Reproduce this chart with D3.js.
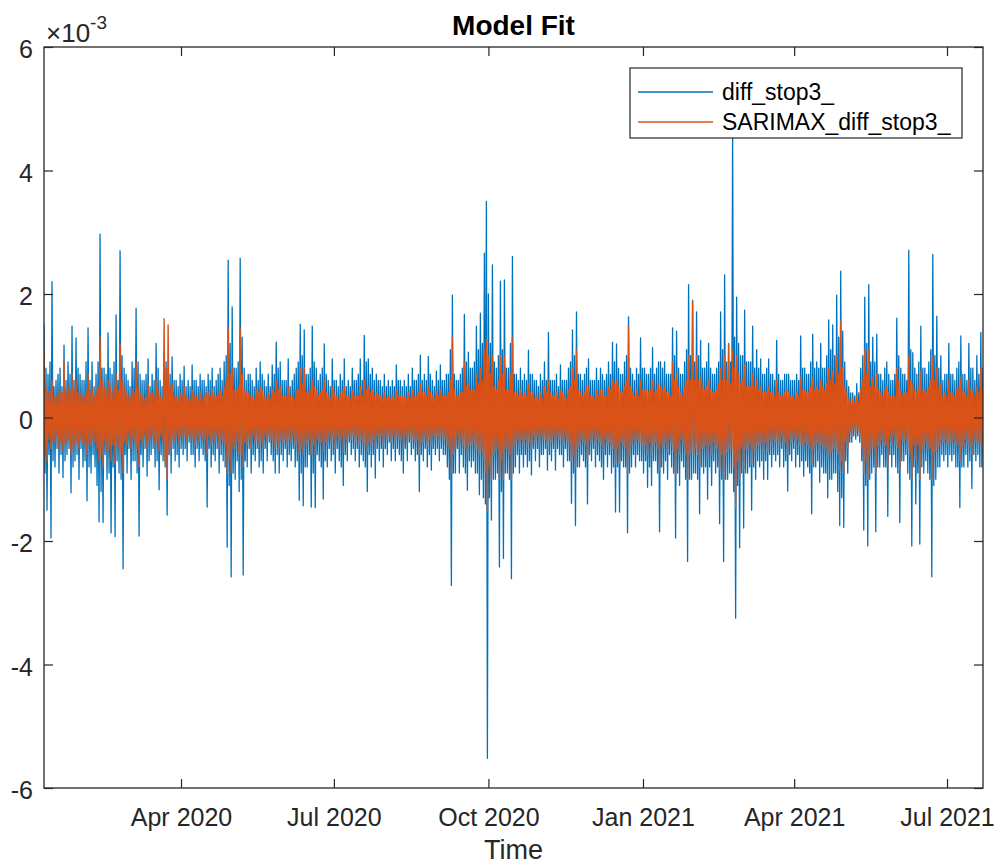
<!DOCTYPE html>
<html>
<head>
<meta charset="utf-8">
<script src="https://cdn.jsdelivr.net/npm/d3@7"></script>
<style>
  body { margin: 0; background: #fff; }
  svg text { font-family: "Liberation Sans", Arial, Helvetica, sans-serif; }
</style>
</head>
<body>
<div id="chart"></div>
<script>
// values are in units of 1e-3, one sample every 14.3 h starting 2020-01-10
const sampleStart = Date.UTC(2020, 0, 10, 10, 30);
const sampleHours = 14.3;
const xStart = new Date(Date.UTC(2020, 0, 10, 10, 30));
const xEnd = new Date(Date.UTC(2021, 6, 22, 10, 0));
const yTicks = [-6, -4, -2, 0, 2, 4, 6];
const seriesNames = ["diff_stop3_", "SARIMAX_diff_stop3_"];
const colors = ["#0072BD", "#D95319"];

// observed series (diff_stop3_)
const obsPart1 = [1.5,-0.9,0.8,-1.5,0.7,-0.6,0.9,-1.95,2.2,-0.7,0.5,-0.8,0.6,-0.5,0.7,-0.9,0.8,-0.6,0.5,-0.97,1.17,-0.7,0.6,-0.6,0.9,-0.5,0.7,-1.22,1.48,-0.8,0.6,-0.7,1.29,-0.6,0.8,-1.0,0.7,-0.5,0.6,-0.8,
  0.6,-0.7,0.9,-1.35,1.45,-0.8,0.6,-0.9,0.9,-0.6,0.5,-0.8,0.7,-1.1,0.9,-1.69,2.97,-1.2,0.8,-1.7,0.8,-0.6,0.7,-1.0,1.37,-0.9,0.8,-1.87,0.7,-0.8,0.9,-1.93,1.66,-0.7,0.6,-0.9,2.7,-1.0,1.0,-2.45,
  0.8,-0.6,0.7,-0.9,0.6,-0.5,0.5,-1.0,0.9,-0.7,0.8,-0.7,1.77,-0.9,0.9,-1.92,0.7,-0.6,0.6,-0.8,0.6,-0.5,0.7,-0.95,0.95,-0.7,0.5,-0.6,0.7,-0.5,0.6,-0.8,1.2,-0.7,0.8,-1.17,0.6,-0.6,0.5,-0.7,
  1.0,-0.8,0.9,-1.58,0.8,-0.6,0.7,-0.9,0.98,-0.5,0.6,-0.7,0.6,-0.6,0.5,-0.8,0.7,-0.5,0.6,-0.6,0.83,-0.5,0.5,-0.7,0.6,-0.4,0.5,-0.6,0.85,-0.6,0.6,-0.8,0.6,-0.5,0.5,-0.7,0.7,-0.5,0.6,-0.6];
const obsPart2 = [0.6,-0.7,0.5,-1.45,0.7,-0.5,0.6,-0.8,0.8,-0.6,0.5,-0.7,0.6,-0.5,0.7,-0.9,0.8,-0.6,0.6,-0.7,0.9,-0.8,1.0,-2.1,2.55,-1.1,1.2,-2.58,1.79,-0.9,0.8,-1.0,0.8,-0.7,0.9,-1.2,2.58,-1.0,1.3,-2.55,
  0.8,-0.7,0.6,-0.8,0.7,-0.5,0.7,-0.9,0.6,-0.6,0.5,-0.7,0.8,-0.5,0.6,-0.8,0.9,-0.7,0.7,-0.9,0.6,-0.5,0.5,-0.7,0.7,-0.4,0.5,-0.6,0.85,-0.7,0.7,-0.9,1.22,-0.6,0.8,-0.9,0.9,-0.6,0.6,-0.7,
  0.6,-0.5,0.6,-0.8,0.95,-0.6,0.5,-0.7,0.6,-0.5,0.7,-0.8,0.8,-0.7,0.9,-1.34,1.51,-0.9,1.0,-1.43,1.42,-0.8,0.7,-0.8,0.7,-0.6,0.8,-1.45,1.48,-0.9,0.9,-1.46,0.8,-0.6,0.6,-0.7,0.7,-0.8,0.8,-1.32,
  1.19,-0.7,0.7,-0.8,0.6,-0.5,0.5,-0.7,0.95,-0.6,0.6,-0.9,0.6,-0.5,0.5,-0.7,0.7,-0.8,0.6,-1.1,0.95,-0.6,0.5,-0.7,0.6,-0.4,0.5,-0.6,0.8,-0.5,0.6,-0.7,0.6,-0.5,0.7,-0.8,0.95,-0.6,0.6,-0.7];
const obsPart3 = [1.33,-0.8,0.9,-1.2,0.95,-0.6,0.7,-0.8,0.8,-0.6,0.6,-0.98,0.7,-0.5,0.6,-0.7,0.6,-0.5,0.5,-0.8,0.7,-0.5,0.5,-0.6,0.6,-0.4,0.5,-0.7,0.6,-0.5,0.5,-0.7,0.85,-0.5,0.6,-0.6,0.6,-0.7,0.5,-0.9,
  0.6,-0.5,0.5,-0.7,0.7,-0.4,0.5,-0.6,0.8,-0.5,0.6,-0.7,0.6,-0.6,0.7,-1.2,1.01,-0.6,0.6,-0.7,0.7,-0.5,0.6,-0.8,0.99,-0.6,0.7,-0.85,0.6,-0.5,0.5,-0.6,0.75,-0.5,0.6,-0.7,0.85,-0.5,0.6,-0.6,
  0.6,-0.6,0.7,-0.8,0.7,-1.0,1.1,-2.72,1.98,-0.9,0.7,-0.9,0.6,-0.5,0.6,-0.9,0.7,-0.6,0.8,-0.8,1.67,-0.9,0.9,-1.18,1.06,-0.7,0.8,-0.8,0.8,-0.7,0.9,-0.9,1.48,-0.9,1.1,-1.25,1.69,-1.0,1.2,-1.3,
  2.66,-1.4,3.5,-5.52,2.0,-1.3,1.2,-1.66,2.47,-1.0,0.9,-1.0,0.8,-0.9,1.0,-2.42,2.21,-1.2,1.1,-2.28,2.23,-0.9,0.8,-0.9,0.8,-1.0,1.2,-2.61,2.61,-0.9,0.7,-0.8,0.7,-0.6,0.6,-0.9,0.8,-0.6,0.6,-0.8];
const obsPart4 = [0.7,-0.6,0.6,-0.8,1.09,-0.7,0.7,-0.93,0.7,-0.5,0.6,-0.7,0.6,-0.5,0.5,-0.8,0.7,-0.6,0.6,-0.6,0.9,-0.5,0.6,-0.85,1.38,-0.6,0.6,-0.7,0.6,-0.5,0.6,-0.85,0.7,-0.5,0.5,-0.6,0.85,-0.6,0.6,-0.8,
  0.6,-0.5,0.6,-0.7,0.8,-0.7,0.9,-1.39,1.42,-0.9,1.0,-1.75,1.71,-0.8,0.7,-0.8,0.7,-0.6,0.6,-0.7,0.7,-0.8,0.8,-1.4,0.95,-0.6,0.6,-0.7,0.6,-0.5,0.6,-0.8,0.8,-0.6,0.6,-0.7,0.8,-0.8,0.7,-1.0,
  0.6,-0.6,0.7,-0.8,0.9,-0.6,0.7,-0.9,1.22,-0.8,0.9,-1.53,1.19,-0.8,0.8,-1.53,0.7,-0.7,0.7,-0.8,0.9,-0.8,1.0,-1.87,1.63,-0.9,0.8,-0.8,0.7,-0.6,0.6,-0.8,0.8,-0.6,0.7,-0.7,1.29,-0.7,0.8,-0.9,
  0.8,-0.7,0.7,-1.13,0.7,-0.8,0.8,-1.1,1.13,-0.7,0.7,-0.7,0.8,-0.9,0.9,-1.85,0.9,-0.8,0.8,-0.9,0.9,-0.7,0.7,-1.0,0.7,-0.6,0.7,-0.8,1.45,-0.9,1.0,-1.95,1.4,-0.9,0.8,-1.1,0.7,-0.7,0.7,-0.8];
const obsPart5 = [0.9,-1.0,1.1,-2.33,2.15,-1.0,1.0,-1.0,1.9,-0.9,0.9,-0.9,1.71,-1.0,1.0,-1.56,1.25,-0.8,0.8,-0.9,0.8,-0.8,0.9,-1.32,1.2,-0.8,0.8,-1.1,0.7,-0.7,0.7,-0.9,0.8,-0.8,0.9,-1.72,1.71,-1.0,1.1,-2.33,
  2.31,-1.0,0.9,-1.0,1.2,-0.9,0.9,-0.9,4.55,-1.2,1.3,-3.25,1.95,-1.1,1.2,-2.11,1.0,-0.9,1.0,-1.79,1.74,-0.9,0.9,-0.9,0.9,-0.8,0.9,-1.5,1.48,-0.8,0.8,-1.0,1.1,-0.7,0.8,-0.8,0.95,-0.7,0.7,-1.0,
  0.7,-0.7,0.8,-1.0,0.95,-0.6,0.7,-0.8,0.7,-0.6,0.6,-0.7,1.25,-0.6,0.7,-0.8,0.6,-0.5,0.6,-0.8,0.7,-0.7,0.7,-1.19,0.7,-0.6,0.6,-0.7,0.6,-0.5,0.6,-0.8,0.7,-0.6,0.6,-0.8,1.32,-0.7,0.8,-0.95,
  0.8,-0.7,0.7,-0.8,0.7,-0.9,0.9,-1.56,1.35,-0.8,0.8,-0.8,0.9,-0.7,0.8,-1.05,1.2,-0.8,0.8,-0.9,0.8,-0.9,1.0,-1.3,1.58,-1.0,1.1,-1.0,1.5,-0.9,1.0,-0.9,1.98,-1.2,1.3,-1.75,2.37,-1.3,1.4,-1.78];
const obsPart6 = [0.9,-0.7,0.6,-0.9,0.5,-0.4,0.4,-0.4,0.4,-0.3,0.35,-0.35,0.55,-0.3,0.4,-0.4,0.8,-0.7,1.0,-1.82,1.95,-1.1,1.2,-2.08,2.15,-1.0,0.9,-0.9,1.3,-0.8,0.9,-1.85,1.35,-0.8,0.7,-0.8,0.7,-0.6,0.6,-0.8,
  0.8,-0.8,0.9,-1.6,0.7,-0.6,0.6,-0.8,0.6,-0.6,0.7,-0.8,1.61,-0.9,1.0,-1.7,0.8,-0.7,0.7,-0.7,0.7,-0.6,0.6,-0.9,2.71,-1.0,1.1,-2.08,1.05,-0.8,0.8,-1.4,0.7,-0.9,0.9,-2.05,1.48,-0.8,0.8,-0.9,
  0.8,-0.7,0.7,-0.9,0.9,-1.0,1.1,-2.58,2.64,-1.1,1.0,-1.0,1.64,-0.8,0.8,-0.8,1.0,-0.6,0.6,-0.7,0.7,-0.6,0.7,-0.8,1.2,-0.6,0.7,-0.7,0.7,-0.6,0.6,-0.8,0.8,-0.8,0.9,-1.46,1.32,-0.8,0.7,-0.8,
  0.7,-0.6,0.6,-0.8,1.2,-0.7,0.8,-1.15,0.8,-0.6,0.6,-0.7,1.0,-0.6,0.7,-0.8,1.38,-0.8,0.8,-1.06,0.7];

// fitted series (SARIMAX_diff_stop3_)
const fitPart1 = [1.1,-0.5,0.5,-0.7,0.4,-0.35,0.45,-0.5,0.6,-0.4,0.35,-0.4,0.35,-0.3,0.4,-0.5,0.45,-0.4,0.4,-0.55,0.9,-0.45,0.4,-0.4,0.5,-0.35,0.45,-0.6,0.7,-0.5,0.45,-0.45,0.6,-0.4,0.4,-0.5,0.4,-0.35,0.35,-0.45,
  0.35,-0.4,0.45,-0.6,0.7,-0.45,0.4,-0.45,0.5,-0.35,0.35,-0.4,0.45,-0.5,0.5,-0.7,1.3,-0.6,0.6,-0.8,0.5,-0.4,0.45,-0.55,0.6,-0.5,0.5,-0.7,0.4,-0.45,0.5,-0.75,0.7,-0.45,0.45,-0.5,1.2,-0.6,0.6,-0.9,
  0.5,-0.4,0.4,-0.45,0.35,-0.3,0.35,-0.5,0.45,-0.35,0.4,-0.4,0.9,-0.5,0.5,-0.8,0.4,-0.35,0.35,-0.45,0.3,-0.3,0.35,-0.5,0.55,-0.4,0.4,-0.35,0.4,-0.3,0.35,-0.45,0.6,-0.4,0.45,-0.55,0.35,-0.3,0.3,-0.4,
  1.6,-0.7,0.8,-1.0,1.5,-0.6,0.5,-0.5,0.55,-0.35,0.35,-0.4,0.35,-0.3,0.3,-0.45,0.4,-0.3,0.35,-0.35,0.5,-0.3,0.35,-0.4,0.3,-0.3,0.3,-0.35,0.45,-0.35,0.35,-0.45,0.35,-0.3,0.3,-0.4,0.4,-0.3,0.3,-0.35];
const fitPart2 = [0.35,-0.35,0.4,-0.6,0.4,-0.3,0.35,-0.45,0.45,-0.35,0.35,-0.4,0.35,-0.3,0.4,-0.5,0.45,-0.35,0.35,-0.4,0.5,-0.45,0.6,-0.9,1.45,-0.7,0.7,-0.9,0.8,-0.5,0.45,-0.5,0.45,-0.4,0.5,-0.6,1.45,-0.6,0.7,-0.8,
  0.45,-0.4,0.4,-0.45,0.4,-0.35,0.35,-0.5,0.35,-0.3,0.3,-0.4,0.45,-0.35,0.4,-0.45,0.5,-0.4,0.45,-0.5,0.35,-0.3,0.3,-0.4,0.4,-0.3,0.3,-0.35,0.45,-0.4,0.4,-0.5,0.6,-0.4,0.45,-0.5,0.5,-0.35,0.35,-0.4,
  0.35,-0.35,0.35,-0.45,0.5,-0.35,0.35,-0.4,0.35,-0.3,0.3,-0.45,0.45,-0.4,0.45,-0.6,0.8,-0.5,0.55,-0.6,0.8,-0.45,0.4,-0.45,0.4,-0.35,0.45,-0.6,0.6,-0.45,0.5,-0.6,0.45,-0.35,0.35,-0.4,0.4,-0.4,0.45,-0.55,
  0.6,-0.4,0.4,-0.45,0.35,-0.3,0.3,-0.4,0.5,-0.35,0.4,-0.5,0.35,-0.3,0.3,-0.4,0.4,-0.35,0.4,-0.55,0.5,-0.35,0.35,-0.4,0.35,-0.3,0.3,-0.35,0.45,-0.3,0.35,-0.4,0.35,-0.3,0.35,-0.45,0.5,-0.35,0.35,-0.4];
const fitPart3 = [0.6,-0.45,0.45,-0.55,0.5,-0.4,0.4,-0.45,0.45,-0.35,0.35,-0.5,0.4,-0.3,0.35,-0.4,0.35,-0.3,0.3,-0.45,0.4,-0.3,0.3,-0.35,0.35,-0.3,0.3,-0.4,0.35,-0.3,0.3,-0.4,0.45,-0.3,0.35,-0.35,0.35,-0.35,0.35,-0.5,
  0.35,-0.3,0.3,-0.4,0.4,-0.3,0.3,-0.35,0.45,-0.35,0.35,-0.4,0.35,-0.35,0.4,-0.6,0.55,-0.4,0.4,-0.4,0.4,-0.3,0.35,-0.45,0.5,-0.35,0.4,-0.45,0.35,-0.3,0.3,-0.35,0.4,-0.3,0.35,-0.4,0.45,-0.3,0.35,-0.35,
  0.35,-0.35,0.35,-0.45,0.4,-0.5,0.6,-0.9,1.29,-0.6,0.45,-0.5,0.35,-0.3,0.35,-0.5,0.4,-0.35,0.4,-0.45,0.9,-0.5,0.5,-0.6,0.55,-0.45,0.45,-0.45,0.45,-0.4,0.45,-0.5,0.7,-0.5,0.55,-0.6,0.8,-0.55,0.6,-0.65,
  1.1,-0.9,1.26,-1.53,1.0,-0.8,0.7,-1.0,1.0,-0.6,0.5,-0.55,0.45,-0.5,0.6,-1.0,1.0,-0.7,0.7,-1.0,1.0,-0.5,0.45,-0.5,0.45,-0.6,0.7,-1.0,1.29,-0.5,0.4,-0.45,0.4,-0.35,0.35,-0.5,0.45,-0.35,0.35,-0.45];
const fitPart4 = [0.4,-0.35,0.35,-0.45,0.55,-0.4,0.4,-0.5,0.4,-0.3,0.3,-0.4,0.35,-0.3,0.3,-0.45,0.4,-0.3,0.3,-0.35,0.5,-0.35,0.4,-0.45,0.6,-0.4,0.4,-0.4,0.35,-0.3,0.35,-0.45,0.4,-0.3,0.3,-0.35,0.45,-0.35,0.4,-0.45,
  0.35,-0.3,0.3,-0.4,0.45,-0.45,0.5,-0.7,0.8,-0.6,0.6,-0.8,1.1,-0.5,0.45,-0.45,0.4,-0.35,0.35,-0.4,0.4,-0.45,0.5,-0.7,0.5,-0.35,0.35,-0.4,0.35,-0.3,0.3,-0.45,0.45,-0.35,0.35,-0.4,0.45,-0.45,0.45,-0.55,
  0.35,-0.35,0.35,-0.45,0.5,-0.4,0.45,-0.5,0.6,-0.5,0.55,-0.75,0.6,-0.5,0.5,-0.75,0.4,-0.4,0.4,-0.45,0.5,-0.5,0.6,-0.9,1.47,-0.6,0.5,-0.45,0.4,-0.35,0.35,-0.45,0.45,-0.35,0.35,-0.4,0.6,-0.45,0.45,-0.5,
  0.45,-0.45,0.45,-0.6,0.4,-0.4,0.45,-0.6,0.6,-0.45,0.4,-0.4,0.45,-0.5,0.55,-0.85,0.5,-0.45,0.45,-0.5,0.5,-0.4,0.4,-0.55,0.4,-0.35,0.35,-0.45,0.9,-0.55,0.6,-0.95,0.7,-0.5,0.5,-0.6,0.4,-0.35,0.35,-0.45];
const fitPart5 = [0.5,-0.6,0.6,-1.0,1.0,-0.6,0.6,-0.55,1.88,-0.6,0.6,-0.5,1.0,-0.6,0.6,-0.8,0.65,-0.5,0.5,-0.5,0.45,-0.45,0.5,-0.65,0.6,-0.45,0.45,-0.6,0.4,-0.4,0.4,-0.5,0.45,-0.5,0.55,-0.85,0.8,-0.6,0.6,-1.0,
  1.0,-0.6,0.6,-0.55,1.19,-0.5,0.55,-0.5,1.1,-0.8,0.8,-1.47,1.0,-0.7,0.7,-1.0,0.55,-0.5,0.6,-0.85,0.85,-0.5,0.5,-0.5,0.5,-0.45,0.5,-0.75,0.7,-0.5,0.5,-0.55,0.6,-0.45,0.45,-0.45,0.5,-0.4,0.4,-0.55,
  0.4,-0.4,0.4,-0.55,0.5,-0.35,0.4,-0.45,0.4,-0.35,0.35,-0.4,0.6,-0.4,0.4,-0.45,0.35,-0.3,0.35,-0.45,0.4,-0.4,0.45,-0.6,0.4,-0.35,0.35,-0.4,0.35,-0.3,0.3,-0.45,0.4,-0.35,0.35,-0.45,0.65,-0.45,0.45,-0.5,
  0.45,-0.4,0.4,-0.45,0.4,-0.5,0.5,-0.75,0.65,-0.5,0.45,-0.45,0.5,-0.4,0.45,-0.55,0.6,-0.45,0.5,-0.5,0.45,-0.5,0.55,-0.65,0.8,-0.6,0.6,-0.55,0.75,-0.5,0.55,-0.5,1.0,-0.6,0.7,-0.85,1.55,-0.7,0.8,-0.9];
const fitPart6 = [0.5,-0.4,0.4,-0.5,0.3,-0.25,0.25,-0.3,0.3,-0.2,0.25,-0.25,0.35,-0.2,0.25,-0.3,0.45,-0.5,0.6,-0.9,1.1,-0.7,0.7,-1.0,1.1,-0.6,0.5,-0.5,0.65,-0.5,0.5,-0.9,0.7,-0.45,0.45,-0.45,0.4,-0.35,0.35,-0.45,
  0.45,-0.45,0.5,-0.8,0.4,-0.35,0.35,-0.45,0.35,-0.3,0.35,-0.45,0.8,-0.5,0.6,-0.85,0.45,-0.35,0.35,-0.4,0.4,-0.35,0.4,-0.5,1.0,-0.6,0.6,-1.0,0.55,-0.45,0.45,-0.7,0.4,-0.45,0.5,-1.0,0.75,-0.5,0.45,-0.5,
  0.45,-0.4,0.4,-0.5,0.5,-0.5,0.6,-1.0,1.0,-0.6,0.6,-0.55,0.8,-0.5,0.5,-0.45,0.55,-0.35,0.35,-0.4,0.4,-0.35,0.35,-0.45,0.6,-0.4,0.4,-0.4,0.4,-0.35,0.35,-0.45,0.45,-0.45,0.5,-0.7,0.65,-0.5,0.45,-0.45,
  0.4,-0.35,0.35,-0.45,0.6,-0.45,0.45,-0.6,0.45,-0.35,0.35,-0.4,0.5,-0.4,0.4,-0.45,0.8,-0.5,0.5,-0.55,0.4];

const observed = [...obsPart1, ...obsPart2, ...obsPart3, ...obsPart4, ...obsPart5, ...obsPart6];
const fitted = [...fitPart1, ...fitPart2, ...fitPart3, ...fitPart4, ...fitPart5, ...fitPart6];

const W = 997, H = 866;
const plotLeft = 44, plotRight = 983, plotTop = 47, plotBottom = 788;

const svg = d3.select("#chart").append("svg")
  .attr("width", W)
  .attr("height", H);

const x = d3.scaleUtc().domain([xStart, xEnd]).range([plotLeft, plotRight]);
const y = d3.scaleLinear().domain([-6, 6]).range([plotBottom, plotTop]);

const sampleTime = i => new Date(sampleStart + i * sampleHours * 3600 * 1000);
const line = d3.line()
  .x((d, i) => x(sampleTime(i)))
  .y(d => y(d));

svg.append("clipPath").attr("id", "clip")
  .append("rect")
  .attr("x", plotLeft).attr("y", plotTop)
  .attr("width", plotRight - plotLeft).attr("height", plotBottom - plotTop);

const plot = svg.append("g").attr("clip-path", "url(#clip)");

plot.append("path")
  .datum(observed)
  .attr("fill", "none")
  .attr("stroke", colors[0])
  .attr("stroke-width", 1.3)
  .attr("stroke-linejoin", "round")
  .attr("d", line);

plot.append("path")
  .datum(fitted)
  .attr("fill", "none")
  .attr("stroke", colors[1])
  .attr("stroke-width", 1.4)
  .attr("stroke-linejoin", "round")
  .attr("d", line);

// axes, ticks pointing inward like matlab
const quarter = d3.utcMonth.every(3);
const axisColor = "#262626";

const gx = svg.append("g")
  .attr("transform", `translate(0,${plotBottom})`)
  .call(d3.axisBottom(x).ticks(quarter).tickFormat(d3.utcFormat("%b %Y"))
    .tickSizeInner(-9).tickSizeOuter(0).tickPadding(20));
const gxTop = svg.append("g")
  .attr("transform", `translate(0,${plotTop})`)
  .call(d3.axisTop(x).ticks(quarter).tickFormat("").tickSizeInner(-9).tickSizeOuter(0));
const gy = svg.append("g")
  .attr("transform", `translate(${plotLeft},0)`)
  .call(d3.axisLeft(y).tickValues(yTicks).tickFormat(d => String(d))
    .tickSizeInner(-9).tickSizeOuter(0).tickPadding(11));
const gyRight = svg.append("g")
  .attr("transform", `translate(${plotRight},0)`)
  .call(d3.axisRight(y).tickValues(yTicks).tickFormat("").tickSizeInner(-9).tickSizeOuter(0));

[gx, gxTop, gy, gyRight].forEach(g => {
  g.select(".domain").remove();
  g.selectAll(".tick line").attr("stroke", axisColor).attr("stroke-width", 1.2);
  g.selectAll(".tick text").attr("fill", axisColor).style("font-size", "25px")
    .style("font-family", '"Liberation Sans", Arial, sans-serif');
});
gy.selectAll(".tick text").attr("dy", "0.42em");

svg.append("rect")
  .attr("x", plotLeft).attr("y", plotTop)
  .attr("width", plotRight - plotLeft).attr("height", plotBottom - plotTop)
  .attr("fill", "none")
  .attr("stroke", axisColor)
  .attr("stroke-width", 1.3);

// exponent label
const expo = svg.append("text")
  .attr("x", 46).attr("y", 42)
  .attr("fill", axisColor)
  .style("font-size", "26px");
expo.append("tspan").text("\u00d710");
expo.append("tspan").attr("dy", -13).style("font-size", "19px").text("-3");

svg.append("text")
  .attr("x", (plotLeft + plotRight) / 2).attr("y", 35)
  .attr("text-anchor", "middle")
  .attr("fill", "#000")
  .style("font-size", "28px")
  .style("font-weight", "bold")
  .text("Model Fit");

svg.append("text")
  .attr("x", (plotLeft + plotRight) / 2).attr("y", 859)
  .attr("text-anchor", "middle")
  .attr("fill", axisColor)
  .style("font-size", "27px")
  .text("Time");

// legend
const legend = svg.append("g");
legend.append("rect")
  .attr("x", 630).attr("y", 68)
  .attr("width", 332).attr("height", 70)
  .attr("fill", "#fff")
  .attr("stroke", axisColor)
  .attr("stroke-width", 1.2);

seriesNames.forEach((name, i) => {
  const ly = 92 + i * 30;
  legend.append("line")
    .attr("x1", 638).attr("x2", 713)
    .attr("y1", ly).attr("y2", ly)
    .attr("stroke", colors[i])
    .attr("stroke-width", 1.5);
  legend.append("text")
    .attr("x", 722).attr("y", ly + 8)
    .attr("fill", "#000")
    .style("font-size", "23px")
    .text(name);
});
</script>
</body>
</html>
